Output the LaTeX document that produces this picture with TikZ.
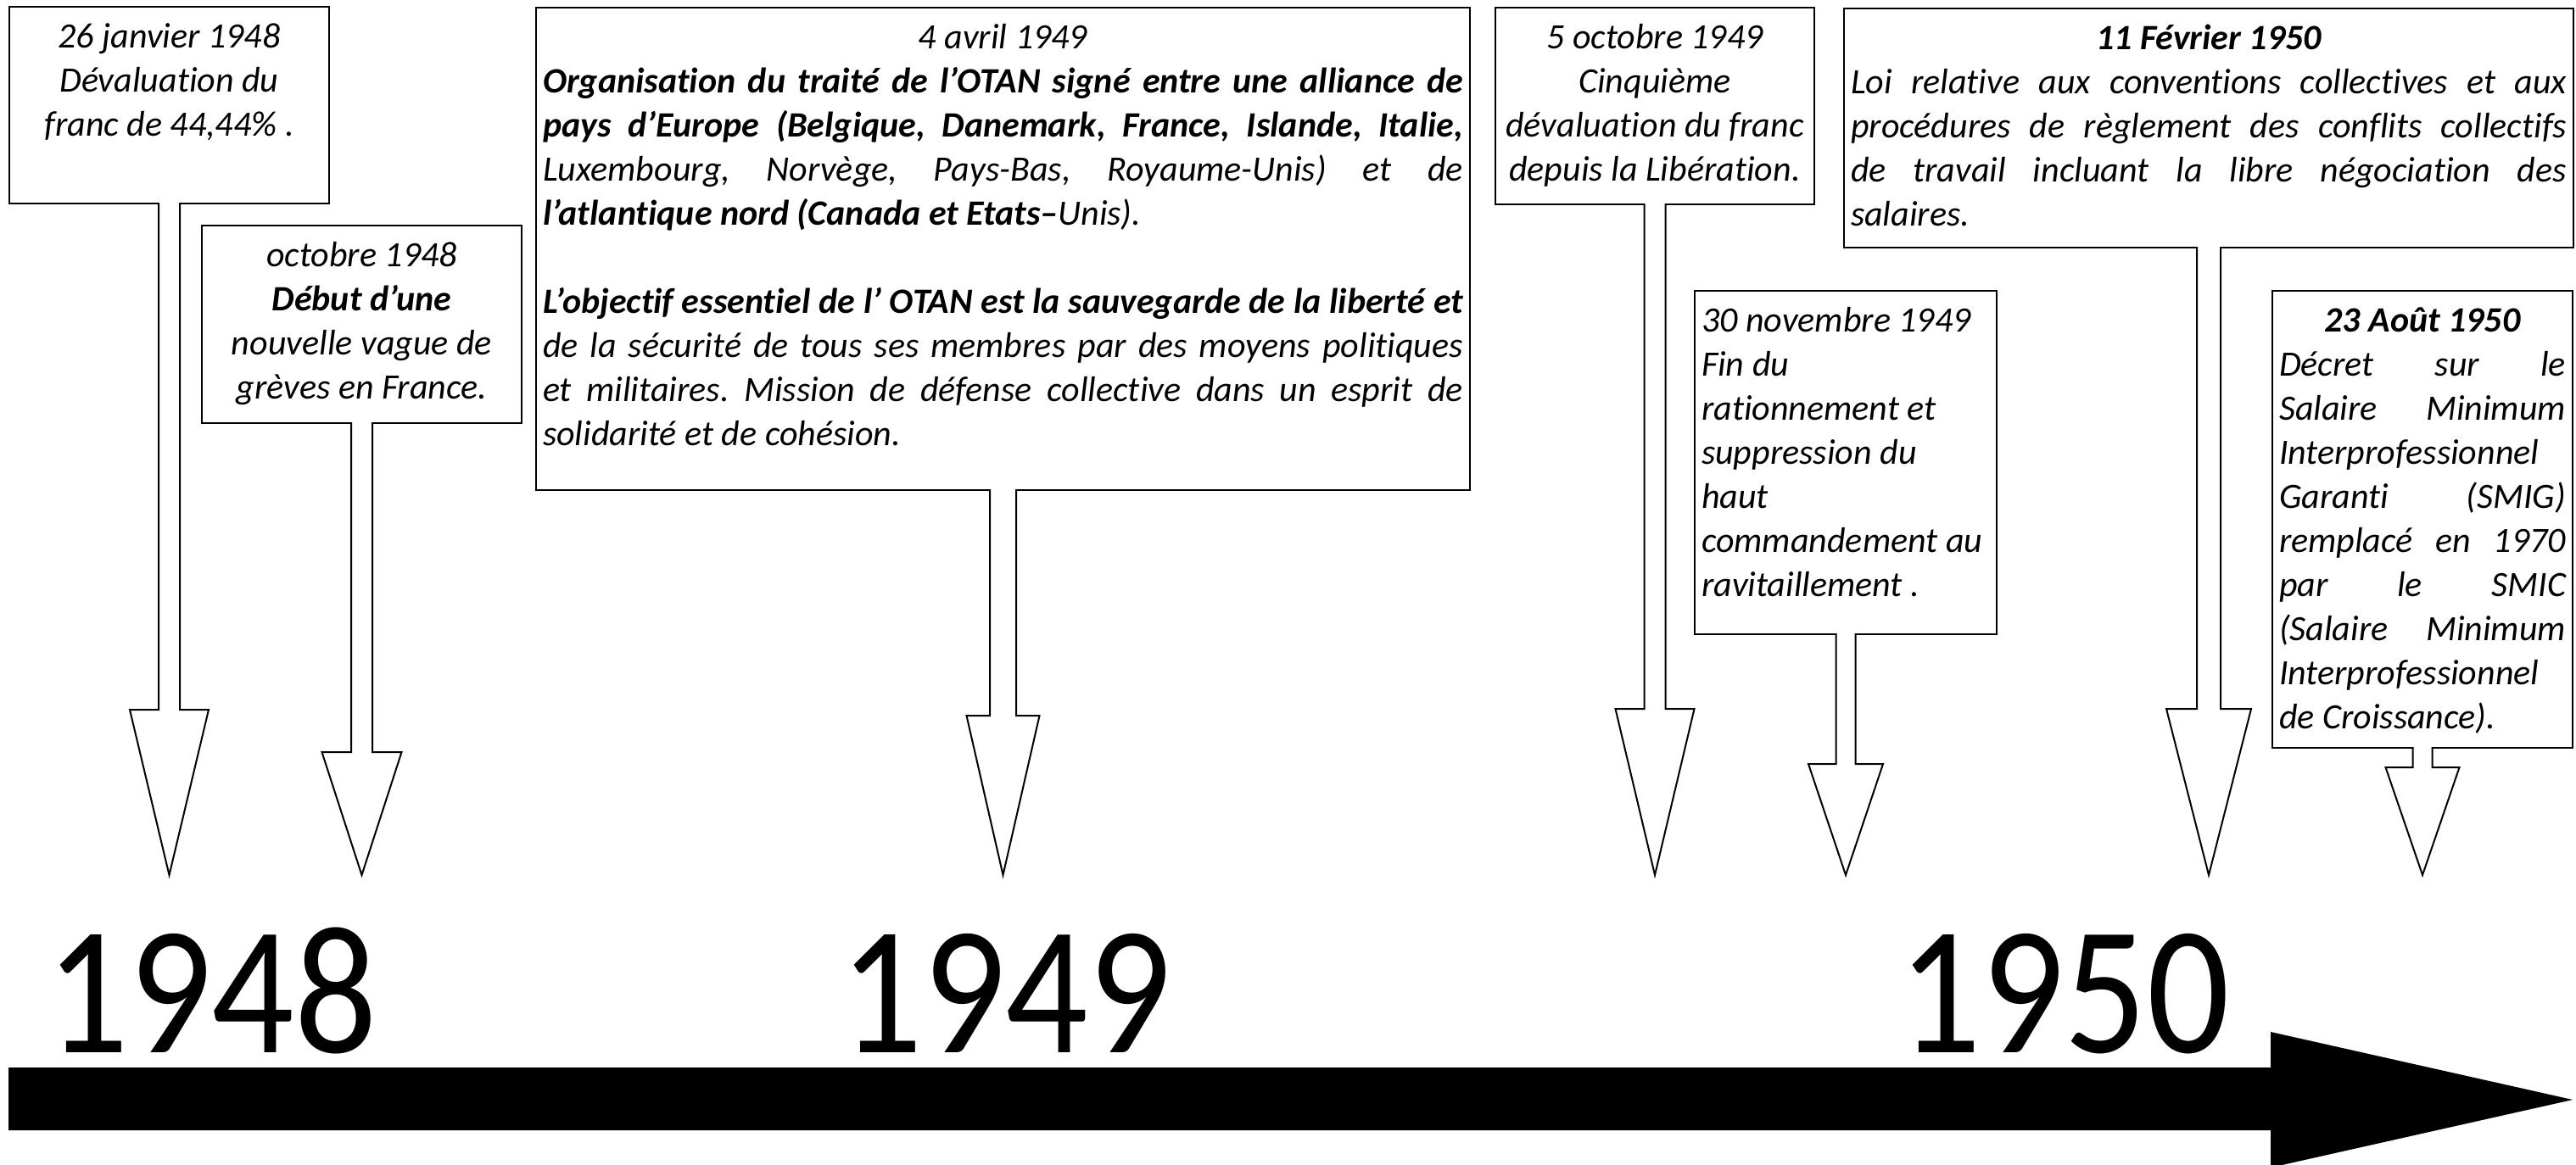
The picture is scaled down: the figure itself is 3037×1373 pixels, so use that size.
\documentclass[tikz,border=0pt]{standalone}
\usepackage{fontspec}
\setmainfont{Carlito}[Ligatures=NoCommon]
\newfontfamily\yearfont{Carlito}[FakeStretch=0.89]
\usetikzlibrary{calc}
\frenchspacing
\newcommand{\evtext}[3]{\begin{minipage}[t][#2][t]{#1}\rule{0pt}{12pt}#3\end{minipage}}
\tikzset{
  evbox/.style={draw, line width=0.5pt, fill=white, anchor=north west, inner xsep=2pt, inner ysep=0pt, font=\fontsize{10.5pt}{13pt}\selectfont\itshape},
  evstem/.style={draw, line width=0.5pt, fill=white},
  year/.style={anchor=base west, inner sep=0pt, font=\yearfont\fontsize{54pt}{54pt}\selectfont}
}

\begin{document}
\begin{tikzpicture}[x=0.25pt, y=-0.25pt]
	\useasboundingbox (0,0) rectangle (3037,1373);
	\fill (10,1259) -- (2677,1259) -- (2677,1217) -- (3033,1297) -- (2677,1377) -- (2677,1333) -- (10,1333) -- cycle;
	\node[year] (y48) at (54,1241) {1948};
	\node[year] (y49) at (990,1241) {1949};
	\node[year] (y50) at (2238,1241) {1950};
	\node[evbox] (jan48) at (10,7) {\evtext{90.25pt}{58pt}{\centering 26 janvier 1948\\ Dévaluation du\\ franc de 44,44\% .}};
	\node[evbox] (oct48) at (237,265) {\evtext{90.25pt}{58.25pt}{\centering octobre 1948\\ \textbf{Début d’une}\\ nouvelle vague de\\ grèves en France.}};
	\node[evbox] (avr49) at (631,8) {\evtext{271.25pt}{142.25pt}{{\centering 4 avril 1949\par}
		\textbf{Organisation du traité de l’OTAN signé entre une alliance de}\linebreak
		\textbf{pays d’Europe (Belgique, Danemark, France, Islande, Italie,}\linebreak
		Luxembourg, Norvège, Pays-Bas, Royaume-Unis) et de\linebreak
		\textbf{l’atlantique nord (Canada et Etats–}Unis).\par
		\vspace{13pt}
		\textbf{L’objectif essentiel de l’ OTAN est la sauvegarde de la liberté et}\linebreak
		de la sécurité de tous ses membres par des moyens politiques\linebreak
		et militaires. Mission de défense collective dans un esprit de\linebreak
		solidarité et de cohésion.}};
	\node[evbox] (oct49) at (1762,8) {\evtext{90pt}{58pt}{\centering 5 octobre 1949\\ Cinquième\\ dévaluation du franc\\ depuis la Libération.}};
	\node[evbox] (nov49) at (1997,342) {\evtext{85pt}{101.25pt}{\raggedright 30 novembre 1949\\ Fin du\\ rationnement et\\ suppression du\\ haut\\ commandement au\\ ravitaillement .}};
	\node[evbox] (fev50) at (2173,9) {\evtext{211pt}{70.5pt}{{\centering\textbf{11 Février 1950}\par}
		Loi relative aux conventions collectives et aux\linebreak
		procédures de règlement des conflits collectifs\linebreak
		de travail incluant la libre négociation des\linebreak
		salaires.}};
	\node[evbox] (aou50) at (2678,342) {\evtext{84.5pt}{134.75pt}{{\centering\textbf{23 Août 1950}\par}
		Décret sur le\linebreak
		Salaire Minimum\linebreak
		Interprofessionnel\linebreak
		Garanti (SMIG)\linebreak
		remplacé en 1970\linebreak
		par le SMIC\linebreak
		(Salaire Minimum\linebreak
		Interprofessionnel\linebreak
		de Croissance).}};
	\foreach \ev/\sw/\hw/\hy in {jan48/12.5/46.5/837, oct48/12.5/47/887, avr49/15.5/43/844, oct49/12.5/46.5/836, nov49/11.5/44/901, fev50/14/50/836, aou50/11.5/43.5/905}
		\draw[evstem] ($(\ev.south)+(-\sw,-2)$) -- ($(\ev.south |- 0,\hy)+(-\sw,0)$) -- ($(\ev.south |- 0,\hy)+(-\hw,0)$) -- (\ev.south |- 0,1032) -- ($(\ev.south |- 0,\hy)+(\hw,0)$) -- ($(\ev.south |- 0,\hy)+(\sw,0)$) -- ($(\ev.south)+(\sw,-2)$);
\end{tikzpicture}
\end{document}
